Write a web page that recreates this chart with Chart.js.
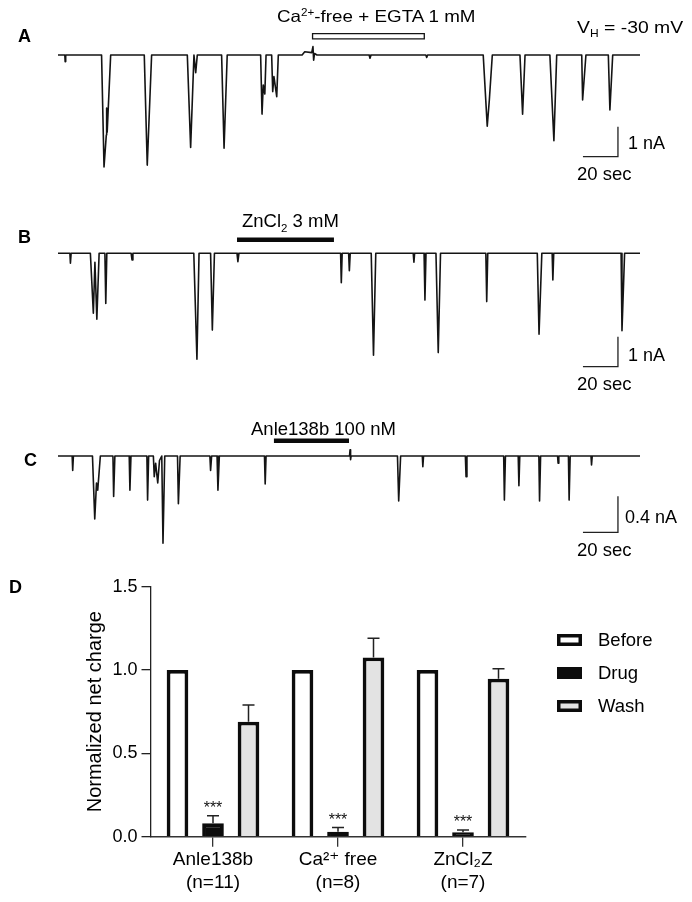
<!DOCTYPE html>
<html>
<head>
<meta charset="utf-8">
<script src="https://cdn.jsdelivr.net/npm/chart.js@4.4.1/dist/chart.umd.min.js"></script>
<style>
  html, body { margin: 0; padding: 0; background: #fff; }
  #page { position: relative; width: 692px; height: 902px; overflow: hidden;
          font-family: 'Liberation Sans', Arial, 'DejaVu Sans', sans-serif; color: #000; }
  canvas { position: absolute; left: 0; }
  .lbl { position: absolute; white-space: nowrap; line-height: 1; font-size: 18px; transform-origin: left center; }
  .wide { transform: scaleX(1.14); }
  .panel { font-weight: bold; font-size: 18px; }
  sup, sub { font-size: 0.62em; line-height: 0; }
</style>
</head>
<body>
<div id="page">
  <canvas id="trA" width="692" height="200" style="top:0px"></canvas>
  <canvas id="trB" width="692" height="190" style="top:193px"></canvas>
  <canvas id="trC" width="692" height="155" style="top:401px"></canvas>
  <canvas id="barD" width="692" height="342" style="top:560px"></canvas>

  <div class="lbl panel" style="left:18px;top:27px">A</div>
  <div class="lbl wide" style="left:277px;top:8px;font-size:16.5px">Ca<sup>2+</sup>-free + EGTA 1 mM</div>
  <div class="lbl wide" style="left:577px;top:19px;font-size:17px">V<sub>H</sub> = -30 mV</div>
  <div class="lbl" style="left:628px;top:134px">1 nA</div>
  <div class="lbl" style="left:577px;top:165px;font-size:18.5px">20 sec</div>

  <div class="lbl panel" style="left:18px;top:228px">B</div>
  <div class="lbl" style="left:242px;top:212px;font-size:18.5px">ZnCl<sub>2</sub> 3 mM</div>
  <div class="lbl" style="left:628px;top:346px">1 nA</div>
  <div class="lbl" style="left:577px;top:375px;font-size:18.5px">20 sec</div>

  <div class="lbl panel" style="left:24px;top:451px">C</div>
  <div class="lbl" style="left:251px;top:420px;font-size:18.5px">Anle138b 100 nM</div>
  <div class="lbl" style="left:625px;top:508px">0.4 nA</div>
  <div class="lbl" style="left:577px;top:541px;font-size:18.5px">20 sec</div>

  <div class="lbl panel" style="left:9px;top:578px">D</div>
</div>

<script>
// ---- traces: time (s) and current (nA) at each vertex ----
const TRACE_LEN = 332.6;

const traceA_t = [0, 3.9, 4.1, 4.4,
  24.9, 26.3, 27.6, 27.8, 28.1, 30.1,
  49.3, 51.0, 53.5,
  73.9, 75.8, 77.7, 78.7, 79.6,
  93.5, 94.9, 96.7,
  115.8, 116.6, 117.3, 118.2, 118.9,
  122.1, 122.7, 123.4, 125.0, 125.9,
  139.5, 141.0, 145.0, 145.7, 146.1, 146.6, 148.0,
  177.8, 178.3, 178.9, 210.2, 210.7, 211.2,
  243.0, 245.3, 246.5, 248.2,
  264.0, 265.5, 266.9,
  281.1, 283.4, 285.0,
  299.3, 299.8, 301.7,
  314.5, 315.4, 317.0,
  332.6];
const traceA_nA = [0, 0, -0.22, 0,
  0, -3.73, -2.67, -1.77, -2.57, 0,
  0, -3.67, 0,
  0, -3.08, 0, -0.59, 0,
  0, -3.11, 0,
  0, -1.97, -1.0, -1.3, 0,
  0, -1.22, -0.72, -1.39, 0,
  0, 0.11, 0.08, 0.28, -0.17, 0.05, 0,
  0, -0.11, 0, 0, -0.08, 0,
  0, -2.37, -1.5, 0,
  0, -1.97, 0,
  0, -2.86, 0,
  0, -1.5, 0,
  0, -1.83, 0,
  0];

const traceB_t = [0, 6.8, 7.1, 7.5,
  18.5, 20.2, 21.1, 22.2, 23.5,
  26.8, 27.3, 27.9,
  41.8, 42.3, 42.8,
  77.6, 79.4, 80.6,
  87.2, 88.2, 89.4,
  102.3, 102.8, 103.4,
  161.5, 161.9, 162.4,
  166.1, 166.5, 167.0,
  179.0, 180.3, 181.6,
  203.0, 203.4, 203.8,
  209.2, 209.7, 210.3,
  216.0, 217.3, 218.6,
  244.5, 245.0, 245.6,
  273.9, 274.9, 276.5,
  282.4, 282.8, 283.3,
  321.8, 322.3, 323.8,
  332.6];
const traceB_nA = [0, 0, -0.33, 0,
  0, -2.0, -0.3, -2.2, 0,
  0, -1.67, 0,
  0, -0.22, 0,
  0, -3.53, 0,
  0, -2.56, 0,
  0, -0.28, 0,
  0, -0.98, 0,
  0, -0.58, 0,
  0, -3.4, 0,
  0, -0.3, 0,
  0, -1.56, 0,
  0, -3.31, 0,
  0, -1.61, 0,
  0, -2.7, 0,
  0, -0.89, 0,
  0, -2.58, 0,
  0];

const traceC_t = [0, 8.1, 8.4, 8.8,
  19.7, 21.0, 22.0, 22.7, 24.2,
  31.4, 31.8, 32.5,
  40.7, 41.1, 41.7,
  50.8, 51.2, 51.8,
  54.5, 55.0, 55.8, 57.0, 58.0, 59.3, 60.0, 61.0,
  68.3, 68.8, 69.8,
  86.8, 87.2, 87.8,
  90.9, 91.4, 92.2,
  118.0, 118.4, 118.9,
  166.6, 166.9, 167.2, 167.5,
  194.0, 194.7, 195.8,
  208.2, 208.5, 208.9,
  232.8, 233.2, 233.7,
  254.7, 255.1, 255.7,
  263.0, 263.4, 263.9,
  274.8, 275.2, 275.8,
  285.5, 285.8, 286.2,
  291.7, 292.1, 292.7,
  304.6, 304.9, 305.3,
  332.6];
const traceC_nA = [0, 0, -0.16, 0,
  0, -0.70, -0.30, -0.38, 0,
  0, -0.45, 0,
  0, -0.38, 0,
  0, -0.49, 0,
  0, -0.23, -0.08, -0.30, -0.05, 0, -0.97, 0,
  0, -0.53, 0,
  0, -0.16, 0,
  0, -0.38, 0,
  0, -0.31, 0,
  0, 0.07, -0.04, 0,
  0, -0.50, 0,
  0, -0.12, 0,
  0, -0.23, 0,
  0, -0.49, 0,
  0, -0.33, 0,
  0, -0.50, 0,
  0, -0.08, 0,
  0, -0.49, 0,
  0, -0.10, 0,
  0];

// application periods (s) and the level (nA) where the bar sits
const drugA_t = [145.1, 209.7]; const drugA_level = 0.627;
const drugB_t = [102.3, 157.7]; const drugB_level = 0.453;
const drugC_t = [123.4, 166.3]; const drugC_level = 0.169;

// calibration bars: start time, span (s), bottom (nA), height (nA)
const scaleA = [300, 20, -3.39, 1];
const scaleB = [300, 20, -3.78, 1];
const scaleC = [300, 20, -0.848, 0.4];

// ---- panel D ----
const groups = [['Anle138b', '(n=11)'], ['Ca\u00B2\u207A free', '(n=8)'], ['ZnCl\u2082Z', '(n=7)']];
const beforeVals = [1, 1, 1];
const beforeErr = [0, 0, 0];
const drugVals = [0.08, 0.03, 0.026];
const drugErr = [0.045, 0.025, 0.014];
const washVals = [0.69, 1.075, 0.948];
const washErr = [0.10, 0.115, 0.06];
const drugStars = ['***', '***', '***'];
const yTicks = [0, 0.5, 1.0, 1.5];

const INK = '#141414';

function pts(t, v) { return t.map((x, i) => ({ x, y: v[i] })); }

function scaleBarSet(s) {
  return {
    data: pts([s[0], s[0] + s[1], s[0] + s[1]], [s[2], s[2], s[2] + s[3]]),
    borderColor: '#222', borderWidth: 1.3, pointRadius: 0, tension: 0, order: 3
  };
}

function traceChart(id, t, cur, extras, yMin, yMax) {
  return new Chart(document.getElementById(id), {
    type: 'line',
    data: {
      datasets: [{
        data: pts(t, cur), borderColor: INK, borderWidth: 1.6, pointRadius: 0,
        tension: 0, borderJoinStyle: 'round', order: 5
      }].concat(extras)
    },
    options: {
      responsive: false, animation: false, devicePixelRatio: 1,
      layout: { padding: { left: 58, right: 52, top: 10, bottom: 10 } },
      plugins: { legend: { display: false }, tooltip: { enabled: false } },
      scales: {
        x: { type: 'linear', display: false, min: 0, max: TRACE_LEN },
        y: { display: false, min: yMin, max: yMax }
      }
    }
  });
}

// A: open rectangle (black line with white core)
traceChart('trA', traceA_t, traceA_nA, [
  { data: pts([drugA_t[0] + 0.75, drugA_t[1] - 0.75], [drugA_level, drugA_level]),
    borderColor: '#fff', borderWidth: 4, pointRadius: 0, order: 0 },
  { data: pts(drugA_t, [drugA_level, drugA_level]),
    borderColor: INK, borderWidth: 6.5, pointRadius: 0, order: 1 },
  scaleBarSet(scaleA)
], -4.5, 1.5);

traceChart('trB', traceB_t, traceB_nA, [
  { data: pts(drugB_t, [drugB_level, drugB_level]),
    borderColor: '#0a0a0a', borderWidth: 4.5, pointRadius: 0, order: 1 },
  scaleBarSet(scaleB)
], -3.99, 1.677);

traceChart('trC', traceC_t, traceC_nA, [
  { data: pts(drugC_t, [drugC_level, drugC_level]),
    borderColor: '#0a0a0a', borderWidth: 4.5, pointRadius: 0, order: 1 },
  scaleBarSet(scaleC)
], -1.0, 0.5);

// error bars + significance stars
const errorBars = {
  id: 'errorBars',
  afterDatasetsDraw(chart) {
    const { ctx, scales: { y } } = chart;
    ctx.save();
    ctx.strokeStyle = '#222';
    ctx.lineWidth = 1.5;
    chart.data.datasets.forEach((ds, di) => {
      const meta = chart.getDatasetMeta(di);
      meta.data.forEach((bar, i) => {
        const v = ds.data[i], e = ds.err ? ds.err[i] : 0;
        const top = y.getPixelForValue(v + e);
        if (e > 0) {
          ctx.beginPath();
          ctx.moveTo(bar.x, bar.y);
          ctx.lineTo(bar.x, top);
          ctx.moveTo(bar.x - 6, top);
          ctx.lineTo(bar.x + 6, top);
          ctx.stroke();
        }
        if (ds.stars && ds.stars[i]) {
          ctx.fillStyle = '#111';
          ctx.font = "16px 'Liberation Sans', Arial, sans-serif";
          ctx.textAlign = 'center';
          ctx.textBaseline = 'alphabetic';
          ctx.fillText(ds.stars[i], bar.x, top - 3);
        }
      });
    });
    ctx.restore();
  }
};

// legend boxes on the right
const sideLegend = {
  id: 'sideLegend',
  afterDraw(chart) {
    const ctx = chart.ctx;
    ctx.save();
    chart.data.datasets.forEach((ds, i) => {
      const cy = 80 + i * 33;
      ctx.fillStyle = ds.backgroundColor;
      ctx.fillRect(557, cy - 6, 25, 12);
      ctx.strokeStyle = '#0c0c0c';
      ctx.lineWidth = 3.5;
      ctx.strokeRect(558.75, cy - 4.25, 21.5, 8.5);
      ctx.fillStyle = '#000';
      ctx.font = "18.5px 'Liberation Sans', Arial, sans-serif";
      ctx.textAlign = 'left';
      ctx.textBaseline = 'middle';
      ctx.fillText(ds.label, 598, cy + 1);
    });
    ctx.restore();
  }
};

const barStyle = { borderColor: '#0c0c0c', borderWidth: 3.8, borderSkipped: 'start' };

new Chart(document.getElementById('barD'), {
  type: 'bar',
  data: {
    labels: groups,
    datasets: [
      Object.assign({ label: 'Before', data: beforeVals, err: beforeErr, backgroundColor: '#ffffff' }, barStyle),
      Object.assign({ label: 'Drug', data: drugVals, err: drugErr, stars: drugStars, backgroundColor: '#0c0c0c' }, barStyle),
      Object.assign({ label: 'Wash', data: washVals, err: washErr, backgroundColor: '#e3e3e3' }, barStyle)
    ]
  },
  options: {
    responsive: false, animation: false, devicePixelRatio: 1,
    layout: { padding: { top: 26.7, right: 166.5, left: 0, bottom: 0 } },
    datasets: { bar: { categoryPercentage: 0.852, barPercentage: 0.61 } },
    plugins: { legend: { display: false }, tooltip: { enabled: false } },
    scales: {
      x: {
        offset: true,
        grid: { offset: false, drawOnChartArea: false, tickLength: 10, color: '#333', lineWidth: 1.3 },
        border: { color: '#333', width: 1.5 },
        ticks: { color: '#000', padding: 2, maxRotation: 0,
                 font: { family: "'Liberation Sans', Arial, 'DejaVu Sans', sans-serif", size: 19, lineHeight: 1.21 } },
        afterFit(s) { s.height = 65.3; }
      },
      y: {
        min: 0, max: 1.5,
        afterBuildTicks(s) { s.ticks = yTicks.map(v => ({ value: v })); },
        grid: { drawOnChartArea: false, tickLength: 9, color: '#222', lineWidth: 1.3 },
        border: { color: '#222', width: 1.3 },
        ticks: { color: '#000', padding: 4, callback: v => v.toFixed(1),
                 font: { family: "'Liberation Sans', Arial, sans-serif", size: 18 } },
        title: { display: true, text: 'Normalized net charge', color: '#000',
                 padding: { top: 83, bottom: 0 },
                 font: { family: "'Liberation Sans', Arial, sans-serif", size: 20 } },
        afterFit(s) { s.width = 150.5; }
      }
    }
  },
  plugins: [errorBars, sideLegend]
});
</script>
</body>
</html>
